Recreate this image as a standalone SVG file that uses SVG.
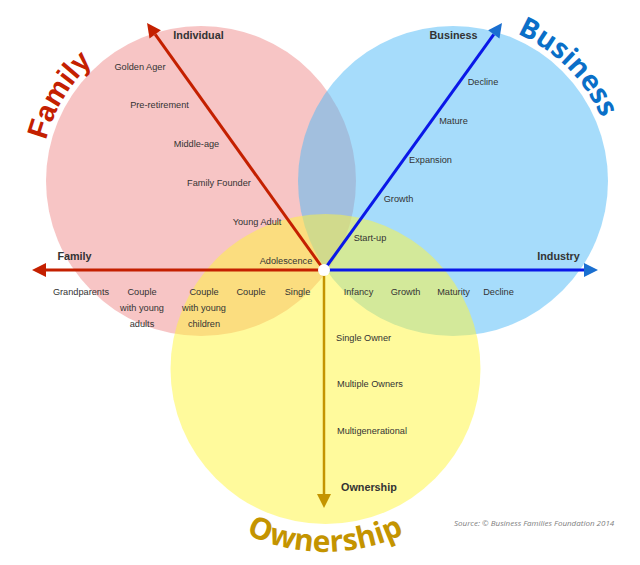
<svg xmlns="http://www.w3.org/2000/svg" width="640" height="565" viewBox="0 0 640 565">
<style>
.lbl{font-family:"Liberation Sans",Arial,sans-serif;font-size:9.2px;fill:#333;text-anchor:middle}
.bold{font-family:"Liberation Sans",Arial,sans-serif;font-size:10.8px;font-weight:bold;fill:#333;text-anchor:middle}
.lbl.st,.bold.st{text-anchor:start}
.circ{opacity:0.5}
</style>
<defs>
<marker id="hr" markerUnits="userSpaceOnUse" markerWidth="14" markerHeight="14" refX="0" refY="7" orient="auto" overflow="visible"><path d="M0,0 L14,7 L0,14 z" fill="#c42000"/></marker>
<marker id="hb" markerUnits="userSpaceOnUse" markerWidth="14" markerHeight="14" refX="0" refY="7" orient="auto" overflow="visible"><path d="M0,0 L14,7 L0,14 z" fill="#1a6fd0"/></marker>
<marker id="hg" markerUnits="userSpaceOnUse" markerWidth="14" markerHeight="14" refX="0" refY="7" orient="auto" overflow="visible"><path d="M0,0 L14,7 L0,14 z" fill="#c49400"/></marker>
<path id="pFamily" d="M62.3,259.5 A159,159 0 0 1 205.5,21.1" fill="none"/>
<path id="pBusiness" d="M399.3,30.6 A160,160 0 0 1 604.4,235.7" fill="none"/>
<path id="pOwnership" d="M165.7,460 A184,184 0 0 0 484.3,460" fill="none"/>
</defs>
<rect width="640" height="565" fill="#fff"/>

<g id="family">
<circle class="circ" cx="201" cy="181" r="155" fill="#ef8b8b"/>
</g>
<g id="business">
<circle class="circ" cx="453" cy="181" r="155" fill="#4db9f7"/>
</g>
<g id="ownership">
<circle class="circ" cx="325.5" cy="369" r="155" fill="#fff539"/>
</g>

<g id="titles">
<text font-family="'Liberation Sans',Arial,sans-serif" font-size="29" font-weight="bold" fill="#c42000"><textPath href="#pFamily" startOffset="50%" text-anchor="middle">Family</textPath></text>
<text font-family="'Open Sans','Liberation Sans',sans-serif" font-size="28" font-weight="bold" fill="#0a6fc8"><textPath href="#pBusiness" startOffset="50%" text-anchor="middle">Business</textPath></text>
<text font-family="'Open Sans','Liberation Sans',sans-serif" font-size="30" font-weight="bold" fill="#c49400"><textPath href="#pOwnership" startOffset="50%" text-anchor="middle">Ownership</textPath></text>
</g>

<g id="connectors" fill="none" stroke-width="3">
<line x1="324" y1="270" x2="155.2" y2="34.4" stroke="#c42000" marker-end="url(#hr)"/>
<line x1="324" y1="270" x2="46" y2="270" stroke="#c42000" marker-end="url(#hr)"/>
<line x1="324" y1="270" x2="493.8" y2="34.4" stroke="#0a18e8" marker-end="url(#hb)"/>
<line x1="324" y1="270" x2="584" y2="270" stroke="#0a18e8" marker-end="url(#hb)"/>
<line x1="324" y1="270" x2="324" y2="494" stroke="#c49400" stroke-width="2.5" marker-end="url(#hg)"/>
</g>
<g id="center">
<circle cx="324" cy="270" r="6" fill="#fff"/>
</g>

<g id="family-labels">
<text class="bold" x="198.5" y="39">Individual</text>
<text class="lbl" x="140" y="70">Golden Ager</text>
<text class="lbl" x="159.5" y="108">Pre-retirement</text>
<text class="lbl" x="196.5" y="147">Middle-age</text>
<text class="lbl" x="219" y="186">Family Founder</text>
<text class="lbl" x="257" y="225">Young Adult</text>
<text class="lbl" x="286" y="264">Adolescence</text>
<text class="bold" x="74.5" y="260">Family</text>
<text class="lbl" x="81" y="295">Grandparents</text>
<text class="lbl" x="142" y="295">Couple</text>
<text class="lbl" x="142" y="311">with young</text>
<text class="lbl" x="142" y="327">adults</text>
<text class="lbl" x="204" y="295">Couple</text>
<text class="lbl" x="204" y="311">with young</text>
<text class="lbl" x="204" y="327">children</text>
<text class="lbl" x="251" y="295">Couple</text>
<text class="lbl" x="297.5" y="295">Single</text>
</g>

<g id="business-labels">
<text class="bold" x="453.5" y="39">Business</text>
<text class="lbl" x="483" y="85">Decline</text>
<text class="lbl" x="453.5" y="124">Mature</text>
<text class="lbl" x="430.5" y="163">Expansion</text>
<text class="lbl" x="398.5" y="202">Growth</text>
<text class="lbl" x="370" y="241">Start-up</text>
<text class="bold" x="558.5" y="260">Industry</text>
<text class="lbl" x="358.5" y="295">Infancy</text>
<text class="lbl" x="405.5" y="295">Growth</text>
<text class="lbl" x="453.5" y="295">Maturity</text>
<text class="lbl" x="498.5" y="295">Decline</text>
</g>

<g id="ownership-labels">
<text class="lbl st" x="336" y="341">Single Owner</text>
<text class="lbl st" x="337" y="387">Multiple Owners</text>
<text class="lbl st" x="337" y="434">Multigenerational</text>
<text class="bold st" x="341" y="491">Ownership</text>
</g>

<text x="454" y="526" font-family="'Open Sans','Liberation Sans',sans-serif" font-size="8" font-style="italic" fill="#808080">Source: © Business Families Foundation 2014</text>
</svg>
